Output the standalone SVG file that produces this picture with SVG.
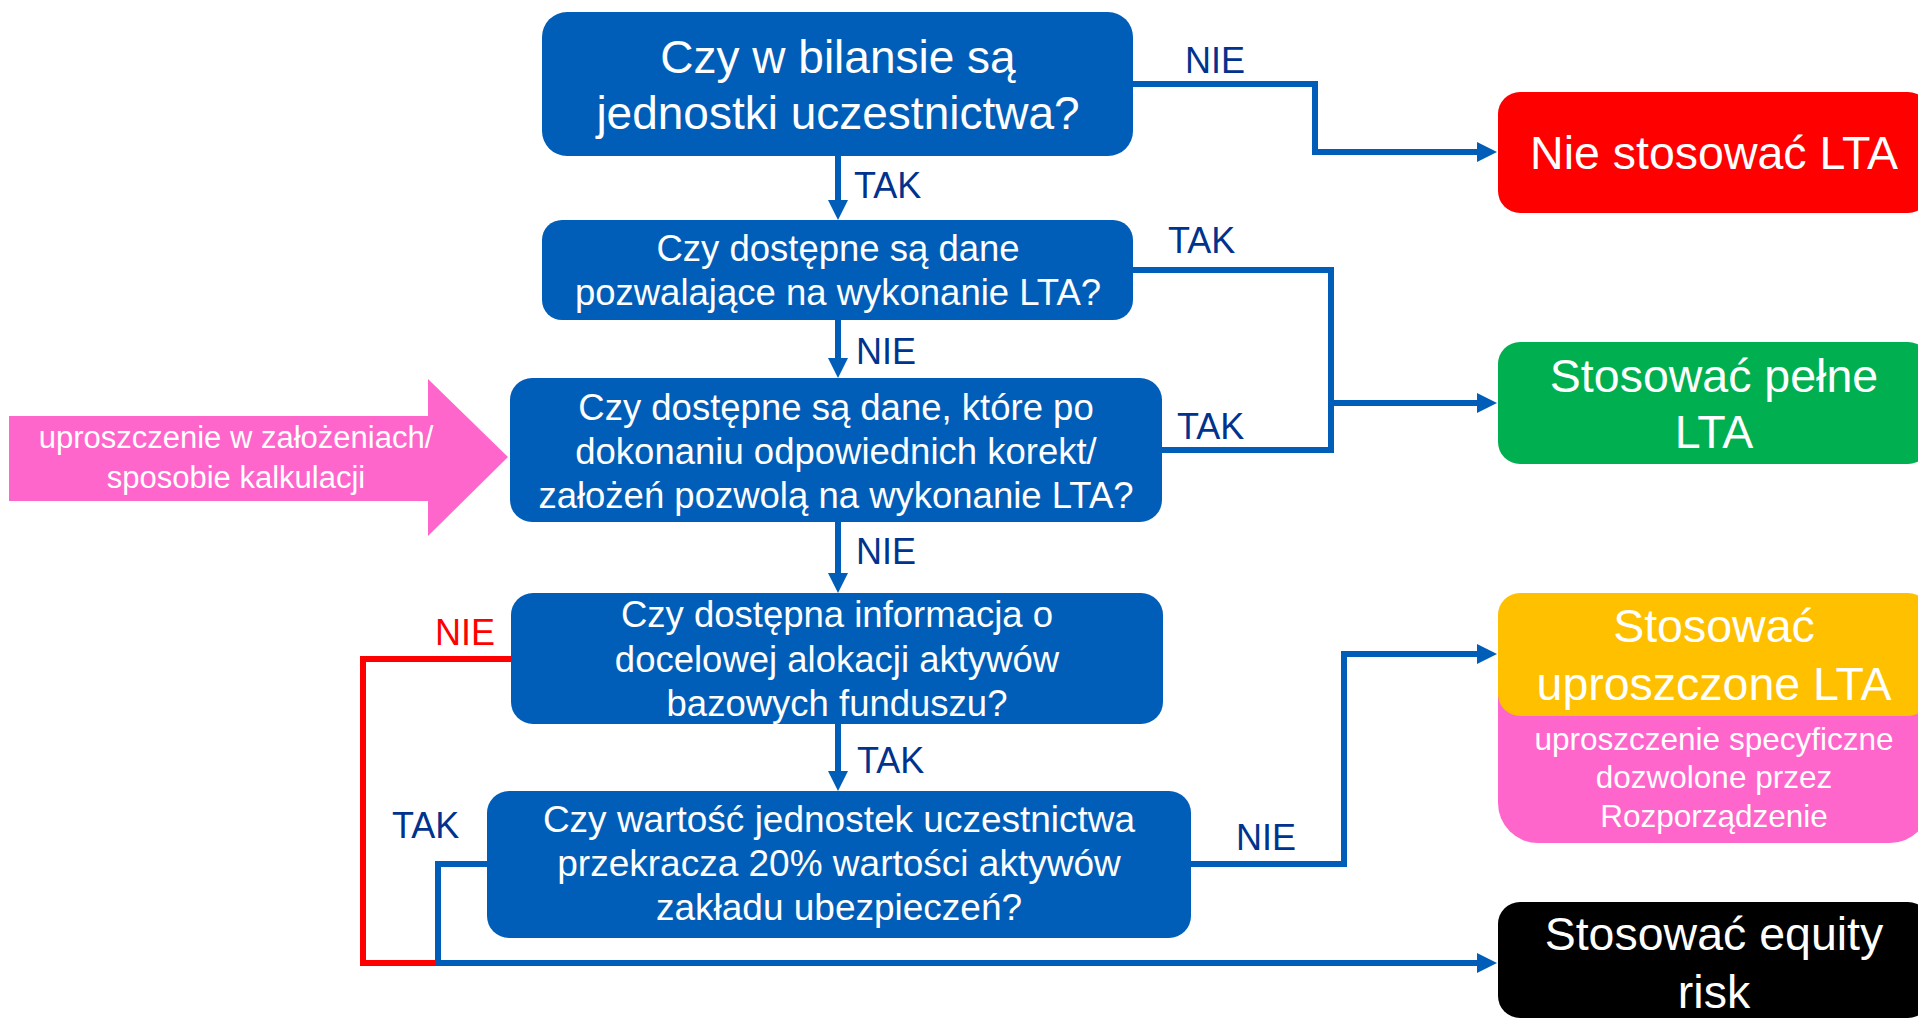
<svg xmlns="http://www.w3.org/2000/svg" width="1918" height="1020" viewBox="0 0 1918 1020">
<defs>
<style>
.q{fill:#005EB8}
.t{font-family:"Liberation Sans",Arial,sans-serif;fill:#fff;text-anchor:middle}
.lbl{font-family:"Liberation Sans",Arial,sans-serif;font-size:36px;fill:#00338D}
.c{fill:none;stroke:#005EB8;stroke-width:6;stroke-linejoin:miter;stroke-linecap:butt}
.r{fill:none;stroke:#FF0000;stroke-width:6;stroke-linejoin:miter}
</style>
<marker id="ah" viewBox="0 0 20 20" refX="0" refY="10" markerWidth="20" markerHeight="20" markerUnits="userSpaceOnUse" orient="auto">
<path d="M0,0 L20,10 L0,20 Z" fill="#005EB8"/>
</marker>
</defs>
<rect width="1918" height="1020" fill="#fff"/>

<g id="connectors">
<path class="c" d="M838,155 V200" marker-end="url(#ah)"/>
<path class="c" d="M838,320 V358" marker-end="url(#ah)"/>
<path class="c" d="M838,522 V573" marker-end="url(#ah)"/>
<path class="c" d="M838,724 V771" marker-end="url(#ah)"/>
<path class="c" d="M1133,84 H1315 V152 H1477" marker-end="url(#ah)"/>
<path class="c" d="M1133,270 H1331 V450 H1162"/>
<path class="c" d="M1331,403 H1477" marker-end="url(#ah)"/>
<path class="c" d="M1190,864 H1344 V654 H1477" marker-end="url(#ah)"/>
<path class="r" d="M511,659 H363 V963 H438"/>
<path class="c" d="M487,864 H438 V963 H1477" marker-end="url(#ah)"/>
<text class="lbl" x="1185" y="73">NIE</text>
<text class="lbl" x="854" y="198">TAK</text>
<text class="lbl" x="856" y="364">NIE</text>
<text class="lbl" x="856" y="564">NIE</text>
<text class="lbl" x="857" y="773">TAK</text>
<text class="lbl" x="1168" y="253">TAK</text>
<text class="lbl" x="1177" y="439">TAK</text>
<text class="lbl" x="1236" y="850">NIE</text>
<text class="lbl" x="435" y="645" style="fill:#FF0000">NIE</text>
<text class="lbl" x="392" y="838">TAK</text>
</g>

<g id="q1">
<rect class="q" x="542" y="12" width="591" height="144" rx="25"/>
<text class="t" x="838" y="73" font-size="46">Czy w bilansie są</text>
<text class="t" x="838" y="129" font-size="46">jednostki uczestnictwa?</text>
</g>

<g id="q2">
<rect class="q" x="542" y="220" width="591" height="100" rx="20"/>
<text class="t" x="838" y="261" font-size="36.5">Czy dostępne są dane</text>
<text class="t" x="838" y="305" font-size="36.5">pozwalające na wykonanie LTA?</text>
</g>

<g id="q3">
<rect class="q" x="510" y="378" width="652" height="144" rx="22"/>
<text class="t" x="836" y="420" font-size="36.5">Czy dostępne są dane, które po</text>
<text class="t" x="836" y="464" font-size="36.5">dokonaniu odpowiednich korekt/</text>
<text class="t" x="836" y="508" font-size="36.5">założeń pozwolą na wykonanie LTA?</text>
</g>

<g id="q4">
<rect class="q" x="511" y="593" width="652" height="131" rx="22"/>
<text class="t" x="837" y="627" font-size="36.5">Czy dostępna informacja o</text>
<text class="t" x="837" y="672" font-size="36.5">docelowej alokacji aktywów</text>
<text class="t" x="837" y="716" font-size="36.5">bazowych funduszu?</text>
</g>

<g id="q5">
<rect class="q" x="487" y="791" width="704" height="147" rx="22"/>
<text class="t" x="839" y="832" font-size="37">Czy wartość jednostek uczestnictwa</text>
<text class="t" x="839" y="876" font-size="37">przekracza 20% wartości aktywów</text>
<text class="t" x="839" y="920" font-size="37">zakładu ubezpieczeń?</text>
</g>

<g id="simplification-arrow">
<polygon points="9,416 428,416 428,379 508,457 428,536 428,501 9,501" fill="#FF66CC"/>
<text class="t" x="236" y="448" font-size="31">uproszczenie w założeniach/</text>
<text class="t" x="236" y="488" font-size="31">sposobie kalkulacji</text>
</g>

<g id="r-nie">
<rect x="1498" y="92" width="432" height="121" rx="22" fill="#FF0000"/>
<text class="t" x="1714" y="169" font-size="46.5">Nie stosować LTA</text>
</g>

<g id="r-pelne">
<rect x="1498" y="342" width="432" height="122" rx="22" fill="#00B050"/>
<text class="t" x="1714" y="392" font-size="46.5">Stosować pełne</text>
<text class="t" x="1714" y="448" font-size="46.5">LTA</text>
</g>

<g id="r-uproszczone">
<rect x="1498" y="640" width="432" height="203" rx="40" fill="#FF66CC"/>
<rect x="1498" y="593" width="432" height="123" rx="22" fill="#FFC000"/>
<text class="t" x="1714" y="642" font-size="46.5">Stosować</text>
<text class="t" x="1714" y="700" font-size="46.5">uproszczone LTA</text>
<text class="t" x="1714" y="750" font-size="31.5">uproszczenie specyficzne</text>
<text class="t" x="1714" y="788" font-size="31.5">dozwolone przez</text>
<text class="t" x="1714" y="827" font-size="31.5">Rozporządzenie</text>
</g>

<g id="r-equity">
<rect x="1498" y="902" width="432" height="116" rx="22" fill="#000000"/>
<text class="t" x="1714" y="950" font-size="46.5">Stosować equity</text>
<text class="t" x="1714" y="1008" font-size="46.5">risk</text>
</g>
</svg>
